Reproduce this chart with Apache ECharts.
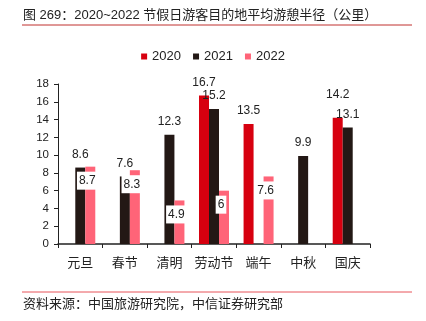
<!DOCTYPE html>
<html><head><meta charset="utf-8">
<script src="https://cdn.jsdelivr.net/npm/echarts@6/dist/echarts.min.js"></script>
<style>html,body{margin:0;padding:0;background:#fff}#c{width:426px;height:321px}</style>
</head><body><div id="c"></div>
<script>
const categories = ['元旦', '春节', '清明', '劳动节', '端午', '中秋', '国庆'];
const seriesNames = ['2020', '2021', '2022'];
const values2020 = [null, null, null, 16.7, 13.5, null, 14.2];
const values2021 = [8.6, 7.6, 12.3, 15.2, null, 9.9, 13.1];
const values2022 = [8.7, 8.3, 4.9, 6, 7.6, null, null];
const yMin = 0, yMax = 18, yStep = 2;
const titleText = '图 269：2020~2022 节假日游客目的地平均游憩半径（公里）';
const sourceText = '资料来源：中国旅游研究院，中信证券研究部';

const FONT = '"Liberation Sans", Arial, "Noto Sans CJK SC", sans-serif';
const colors = ['#d7000f', '#231815', '#ff6478'];

const chart = echarts.init(document.getElementById('c'), null, {renderer: 'canvas'});

function topLabel(vals, raiseIdx) {
  return vals.map((v, i) => {
    if (v == null) return null;
    if (raiseIdx && raiseIdx.includes(i)) return {value: v, label: {offset: [0, -10]}};
    return v;
  });
}

chart.setOption({
  animation: false,
  textStyle: {fontFamily: FONT},
  color: colors,
  legend: {
    data: seriesNames,
    top: 45,
    left: 'center',
    icon: 'rect',
    itemWidth: 6,
    itemHeight: 6,
    itemGap: 12,
    textStyle: {fontSize: 13, color: '#222', fontFamily: FONT}
  },
  grid: {left: 58, right: 56, top: 84, bottom: 77, containLabel: false},
  xAxis: {
    type: 'category',
    data: categories,
    axisLine: {lineStyle: {color: '#222', width: 1.5}},
    axisTick: {show: true, length: 4, inside: false, lineStyle: {color: '#222'}},
    axisLabel: {interval: 0, fontSize: 13, color: '#222', margin: 13, fontFamily: FONT}
  },
  yAxis: {
    type: 'value',
    min: yMin, max: yMax, interval: yStep,
    splitLine: {show: false},
    axisLine: {show: true, lineStyle: {color: '#222', width: 1}},
    axisTick: {show: true, length: 4, lineStyle: {color: '#222'}},
    axisLabel: {fontSize: 11.5, color: '#222', margin: 9, fontFamily: FONT}
  },
  series: [
    {
      name: seriesNames[0], type: 'bar', barWidth: 10, barGap: '0%',
      data: topLabel(values2020, [6]),
      itemStyle: {color: colors[0]},
      label: {show: true, position: 'top', distance: 7, fontSize: 12, color: '#222', fontFamily: FONT}
    },
    {
      name: seriesNames[1], type: 'bar', barWidth: 10, barGap: '0%',
      data: topLabel(values2021),
      itemStyle: {color: colors[1]},
      label: {show: true, position: 'top', distance: 7, fontSize: 12, color: '#222', fontFamily: FONT}
    },
    {
      name: seriesNames[2], type: 'bar', barWidth: 10, barGap: '0%',
      data: values2022,
      itemStyle: {color: colors[2]},
      label: {show: true, position: 'insideTop', distance: 5, offset: [-3, 0], fontSize: 12, color: '#222',
        backgroundColor: '#fff', padding: [3, 2, 3, 2], fontFamily: FONT}
    }
  ],
  graphic: [
    {type: 'text', left: 23, top: 9, style: {text: titleText, font: '13px ' + FONT, fill: '#222'}},
    {type: 'line', shape: {x1: 22, y1: 25, x2: 412, y2: 25}, style: {stroke: '#c0312f', lineWidth: 1}},
    {type: 'line', shape: {x1: 22, y1: 292, x2: 412, y2: 292}, style: {stroke: '#e8545a', lineWidth: 1}},
    {type: 'text', left: 23, top: 298, style: {text: sourceText, font: '13px ' + FONT, fill: '#222'}}
  ]
});
</script>
</body></html>
